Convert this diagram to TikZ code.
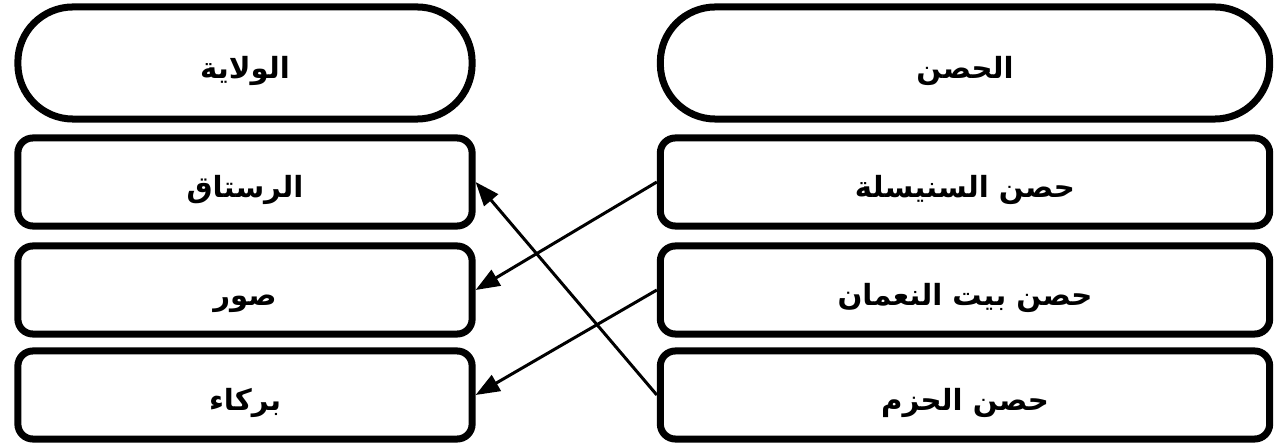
\documentclass[tikz,border=0pt]{standalone}
\usepackage{fontspec}
\usepackage{tikz}
\usetikzlibrary{arrows.meta}
\TeXXeTstate=1
\newfontfamily\arabicfont[Script=Arabic]{DejaVu Sans}

\begin{document}
\begin{tikzpicture}
  [x=0.01cm,y=-0.01cm,
   every node/.style={draw,line width=0.07cm,inner sep=0pt,text height=0.32cm,text depth=0.02cm,
     font=\arabicfont\bfseries\fontsize{8.3}{10}\selectfont},
   head/.style={minimum width=4.54cm,minimum height=1.12cm,rounded corners=0.55cm},
   headr/.style={head,minimum width=6.09cm},
   item/.style={minimum width=4.54cm,minimum height=0.88cm,rounded corners=0.15cm},
   itemr/.style={item,minimum width=6.09cm}]
  \useasboundingbox (0,0) rectangle (1285,446);
  \node[head] (w0) at (245,63) {\beginR الولاية\endR};
  \node[headr] (h0) at (965,63) {\beginR الحصن\endR};
  \node[item] (w1) at (245,182) {\beginR الرستاق\endR};
  \node[item] (w2) at (245,290) {\beginR صور\endR};
  \node[item] (w3) at (245,395) {\beginR بركاء\endR};
  \node[itemr] (h1) at (965,182) {\beginR حصن السنيسلة\endR};
  \node[itemr] (h2) at (965,290) {\beginR حصن بيت النعمان\endR};
  \node[itemr] (h3) at (965,395) {\beginR حصن الحزم\endR};

  \foreach \from/\to in {h1/w2,h2/w3,h3/w1}
    \draw[line width=0.03cm,-{Triangle[length=0.24cm,width=0.18cm]}] (\from.west) -- (\to.east);
\end{tikzpicture}
\end{document}
